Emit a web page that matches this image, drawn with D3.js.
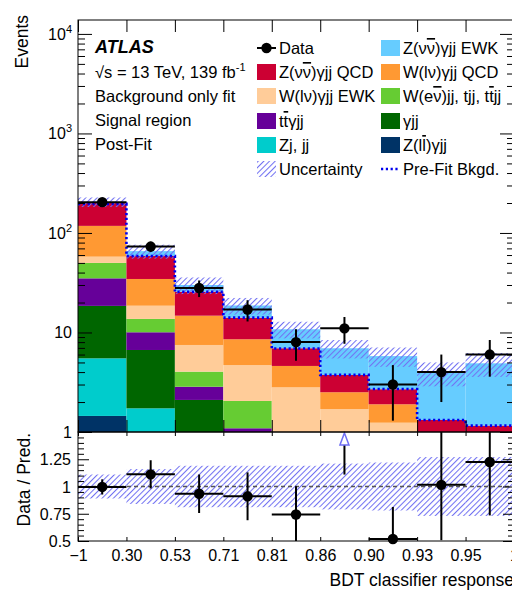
<!DOCTYPE html>
<html>
<head>
<meta charset="utf-8">
<script src="https://cdn.jsdelivr.net/npm/d3@7"></script>
<style>
  body { margin: 0; background: #fff; }
  text { font-family: "Liberation Sans", Arial, Helvetica, sans-serif; fill: #000; }
</style>
</head>
<body>
<svg id="chart" width="512" height="590"></svg>
<script>
// bin edges of the BDT response (equal-width display bins)
var binLabels = ["\u22121", "0.30", "0.53", "0.71", "0.81", "0.86", "0.90", "0.93", "0.95", "1"];

// post-fit yields, stacked bottom -> top
var zllgjj  = [1.45, 0.5, 0.15, 0.05, 0.02, 0.02, 0.02, 0.02, 0.02];
var zjjj    = [4.05, 1.23, 0.55, 0.2, 0.05, 0.03, 0.02, 0.03, 0.03];
var gjj     = [13, 4.94, 1.4, 0.6, 0.08, 0.03, 0.02, 0.05, 0.05];
var ttgjj   = [16.5, 3.38, 0.75, 0.24, 0.05, 0.02, 0.01, 0.05, 0.05];
var wejj    = [15, 3.63, 1.19, 0.96, 0.15, 0.05, 0.03, 0.05, 0.05];
var wgjjEwk = [7.8, 4.9, 3.45, 2.66, 2.46, 1.55, 1.14, 0.2, 0.1];
var wgjjQcd = [60, 15.9, 7.26, 3.84, 1.8, 0.81, 0.66, 0.15, 0.1];
var zvvQcd  = [85, 24.2, 10.95, 5.53, 2.33, 1.23, 0.79, 0.77, 0.76];
var zvvEwk  = [2, 7, 4.3, 4.6, 3.83, 3.2, 3.1, 2.62, 3.74];

var dataCounts = [204, 73, 28, 17, 8, 11, 3, 4, 6];
var dataErr    = [14.3, 8.5, 5.3, 4.1, 2.8, 3.3, 1.7, 2.0, 2.4];
var preFit     = [196, 58.7, 25.7, 14.1, 6.9, 3.75, 2.7, 1.32, 1.16];
var uncRel     = [0.11, 0.16, 0.19, 0.19, 0.19, 0.21, 0.22, 0.27, 0.27];

var keys = ["zllgjj", "zjjj", "gjj", "ttgjj", "wejj", "wgjjEwk", "wgjjQcd", "zvvQcd", "zvvEwk"];
var seriesValues = [zllgjj, zjjj, gjj, ttgjj, wejj, wgjjEwk, wgjjQcd, zvvQcd, zvvEwk];
var colors = {
  zllgjj: "#003366", zjjj: "#00cccc", gjj: "#006600", ttgjj: "#660099", wejj: "#66cc33",
  wgjjEwk: "#ffcc99", wgjjQcd: "#ff9933", zvvQcd: "#cc0033", zvvEwk: "#66ccff"
};

var svg = d3.select("#chart");
var pLeft = 78, pRight = 514, pTop = 20, mainBottom = 432, ratioBottom = 541;
var nBins = binLabels.length - 1;

var x = d3.scaleLinear().domain([0, nBins]).range([pLeft, pRight]);
var y = d3.scaleLog().domain([1, 13800]).range([mainBottom, pTop]).clamp(true);
var yr = d3.scaleLinear().domain([0.5, 1.5]).range([ratioBottom, mainBottom]).clamp(true);

var table = d3.range(nBins).map(function (i) {
  var r = {};
  keys.forEach(function (k, j) { r[k] = seriesValues[j][i]; });
  return r;
});
var layers = d3.stack().keys(keys)(table);
var totals = table.map(function (r) { return d3.sum(keys, function (k) { return r[k]; }); });

var defs = svg.append("defs");
defs.append("clipPath").attr("id", "clipMain").append("rect")
  .attr("x", pLeft).attr("y", pTop).attr("width", pRight - pLeft).attr("height", mainBottom - pTop);
defs.append("clipPath").attr("id", "clipRatio").append("rect")
  .attr("x", pLeft).attr("y", mainBottom).attr("width", pRight - pLeft).attr("height", ratioBottom - mainBottom);
var pat = defs.append("pattern").attr("id", "hatch")
  .attr("patternUnits", "userSpaceOnUse").attr("width", 4).attr("height", 4)
  .attr("patternTransform", "rotate(45)");
pat.append("line").attr("x1", 0.5).attr("y1", 0).attr("x2", 0.5).attr("y2", 4)
  .attr("stroke", "#7272f2").attr("stroke-width", 1.1);

function safe(v) { return Math.max(v, 1e-3); }

// ---------- main panel ----------
var main = svg.append("g").attr("clip-path", "url(#clipMain)");

main.selectAll("g.layer").data(layers).enter().append("g")
  .attr("class", "layer")
  .attr("fill", function (d) { return colors[d.key]; })
  .selectAll("rect").data(function (d) { return d; }).enter().append("rect")
  .attr("x", function (d, i) { return x(i); })
  .attr("width", function (d, i) { return x(i + 1) - x(i); })
  .attr("y", function (d) { return y(safe(d[1])); })
  .attr("height", function (d) { return y(safe(d[0])) - y(safe(d[1])); });

main.append("g").selectAll("rect").data(totals).enter().append("rect")
  .attr("x", function (d, i) { return x(i); })
  .attr("width", function (d, i) { return x(i + 1) - x(i); })
  .attr("y", function (d, i) { return y(d * (1 + uncRel[i])); })
  .attr("height", function (d, i) { return y(d * (1 - uncRel[i])) - y(d * (1 + uncRel[i])); })
  .attr("fill", "url(#hatch)");

var pf = "";
preFit.forEach(function (v, i) {
  pf += (i === 0 ? "M" + x(0) + "," + y(v) : "V" + y(v)) + "H" + x(i + 1);
});
main.append("path").attr("d", pf).attr("fill", "none")
  .attr("stroke", "#0000ee").attr("stroke-width", 2.6).attr("stroke-dasharray", "2.2,2.6");

var pts = svg.append("g");
dataCounts.forEach(function (v, i) {
  var cx = (x(i) + x(i + 1)) / 2;
  pts.append("line").attr("x1", x(i)).attr("x2", x(i + 1)).attr("y1", y(v)).attr("y2", y(v))
    .attr("stroke", "#000").attr("stroke-width", 2);
  pts.append("line").attr("x1", cx).attr("x2", cx).attr("y1", y(v + dataErr[i])).attr("y2", y(v - dataErr[i]))
    .attr("stroke", "#000").attr("stroke-width", 2);
  pts.append("circle").attr("cx", cx).attr("cy", y(v)).attr("r", 5.2).attr("fill", "#000");
});

// ---------- ratio panel ----------
var ratio = svg.append("g").attr("clip-path", "url(#clipRatio)");
ratio.selectAll("rect").data(uncRel).enter().append("rect")
  .attr("x", function (d, i) { return x(i); })
  .attr("width", function (d, i) { return x(i + 1) - x(i); })
  .attr("y", function (d) { return yr(1 + d); })
  .attr("height", function (d) { return yr(1 - d) - yr(1 + d); })
  .attr("fill", "url(#hatch)");
ratio.append("line").attr("x1", pLeft).attr("x2", pRight).attr("y1", yr(1)).attr("y2", yr(1))
  .attr("stroke", "#555").attr("stroke-width", 1.3).attr("stroke-dasharray", "4,3");

var rpts = svg.append("g");
dataCounts.forEach(function (v, i) {
  var r = v / totals[i], lo = (v - dataErr[i]) / totals[i], hi = (v + dataErr[i]) / totals[i];
  var cx = (x(i) + x(i + 1)) / 2;
  if (r > 1.5) {
    // off-scale point: arrow
    rpts.append("line").attr("x1", cx).attr("x2", cx).attr("y1", yr(lo)).attr("y2", yr(1.5) + 13)
      .attr("stroke", "#000").attr("stroke-width", 2);
    rpts.append("path")
      .attr("d", "M" + cx + "," + (yr(1.5) + 1) + "L" + (cx + 4.5) + "," + (yr(1.5) + 13) + "H" + (cx - 4.5) + "Z")
      .attr("fill", "#fff").attr("stroke", "#6f6ff5").attr("stroke-width", 1.5);
    return;
  }
  rpts.append("line").attr("x1", x(i)).attr("x2", x(i + 1)).attr("y1", yr(r)).attr("y2", yr(r))
    .attr("stroke", "#000").attr("stroke-width", 2);
  rpts.append("line").attr("x1", cx).attr("x2", cx).attr("y1", yr(hi)).attr("y2", yr(lo))
    .attr("stroke", "#000").attr("stroke-width", 2);
  rpts.append("circle").attr("cx", cx).attr("cy", yr(r)).attr("r", 5.2).attr("fill", "#000");
});

// ---------- frames & axes ----------
function tickAxis(axis, tx, ty) {
  var g = svg.append("g").attr("transform", "translate(" + tx + "," + ty + ")").call(axis);
  g.select(".domain").remove();
  g.selectAll("line").attr("stroke", "#000");
  return g;
}
var majorY = [1, 10, 100, 1000, 10000];
var minorY = [];
[1, 10, 100, 1000].forEach(function (p) { d3.range(2, 10).forEach(function (m) { minorY.push(m * p); }); });

tickAxis(d3.axisLeft(y).tickValues(majorY).tickSize(-14).tickFormat(""), pLeft, 0);
tickAxis(d3.axisLeft(y).tickValues(minorY).tickSize(-7).tickFormat(""), pLeft, 0);
tickAxis(d3.axisRight(y).tickValues(majorY).tickSize(-14).tickFormat(""), pRight, 0);
tickAxis(d3.axisRight(y).tickValues(minorY).tickSize(-7).tickFormat(""), pRight, 0);
tickAxis(d3.axisBottom(x).tickValues(d3.range(nBins + 1)).tickSize(-12).tickFormat(""), 0, mainBottom);
tickAxis(d3.axisTop(x).tickValues(d3.range(nBins + 1)).tickSize(-12).tickFormat(""), 0, pTop);

var majorR = [0.5, 0.75, 1, 1.25, 1.5];
var minorR = d3.range(10, 30).filter(function (k) { return k % 5 !== 0; }).map(function (k) { return k * 0.05; });
tickAxis(d3.axisLeft(yr).tickValues(majorR).tickSize(-11).tickFormat(""), pLeft, 0);
tickAxis(d3.axisLeft(yr).tickValues(minorR).tickSize(-6).tickFormat(""), pLeft, 0);
tickAxis(d3.axisRight(yr).tickValues(majorR).tickSize(-11).tickFormat(""), pRight, 0);
tickAxis(d3.axisRight(yr).tickValues(minorR).tickSize(-6).tickFormat(""), pRight, 0);
var xr = tickAxis(d3.axisBottom(x).tickValues(d3.range(nBins + 1)).tickSize(-4).tickPadding(9)
  .tickFormat(function (d) { return binLabels[d]; }), 0, ratioBottom);
xr.selectAll("text").style("font-size", "16px").attr("font-family", null);
tickAxis(d3.axisTop(x).tickValues(d3.range(nBins + 1)).tickSize(-4).tickFormat(""), 0, mainBottom);

svg.append("rect").attr("x", pLeft).attr("y", pTop).attr("width", pRight - pLeft).attr("height", mainBottom - pTop)
  .attr("fill", "none").attr("stroke", "#000").attr("stroke-width", 1);
svg.append("rect").attr("x", pLeft).attr("y", mainBottom).attr("width", pRight - pLeft).attr("height", ratioBottom - mainBottom)
  .attr("fill", "none").attr("stroke", "#000").attr("stroke-width", 1);

// y tick labels (main, log)
var expSup = ["", "", "2", "3", "4"];
majorY.forEach(function (v, k) {
  var t = svg.append("text").attr("x", 72).attr("y", y(v) + 6).attr("text-anchor", "end").style("font-size", "16px");
  if (k < 2) { t.text(k === 0 ? "1" : "10"); }
  else {
    t.append("tspan").text("10");
    t.append("tspan").attr("dy", -7).style("font-size", "11px").text(expSup[k]);
  }
});
// ratio labels
[0.5, 0.75, 1, 1.25].forEach(function (v) {
  svg.append("text").attr("x", 71).attr("y", yr(v) + 6).attr("text-anchor", "end")
    .style("font-size", "16px").text(String(v));
});

// axis titles
svg.append("text").attr("transform", "translate(28,15) rotate(-90)").attr("text-anchor", "end")
  .style("font-size", "17.5px").text("Events");
svg.append("text").attr("transform", "translate(30,433) rotate(-90)").attr("text-anchor", "end")
  .style("font-size", "17.5px").text("Data / Pred.");
svg.append("text").attr("x", 514).attr("y", 586).attr("text-anchor", "end")
  .style("font-size", "17.5px").text("BDT classifier response");

// ATLAS label block
svg.append("text").attr("x", 95).attr("y", 53).style("font-size", "18px")
  .style("font-weight", "bold").style("font-style", "italic").text("ATLAS");
var sq = svg.append("text").attr("x", 95).attr("y", 78).style("font-size", "16.5px");
sq.append("tspan").text("\u221As = 13 TeV, 139 fb");
sq.append("tspan").attr("dy", -7).style("font-size", "11px").text("-1");
["Background only fit", "Signal region", "Post-Fit"].forEach(function (s, i) {
  svg.append("text").attr("x", 95).attr("y", 102 + i * 24).style("font-size", "16.5px").text(s);
});

// legend ("~" marks an anti-particle bar over the next character)
var legRows = [48, 72, 96, 121, 145, 169];
var legendItems = [
  { col: 0, row: 0, type: "data", label: "Data" },
  { col: 1, row: 0, type: "box", key: "zvvEwk", label: "Z(\u03BD~\u03BD)\u03B3jj EWK" },
  { col: 0, row: 1, type: "box", key: "zvvQcd", label: "Z(\u03BD~\u03BD)\u03B3jj QCD" },
  { col: 1, row: 1, type: "box", key: "wgjjQcd", label: "W(l\u03BD)\u03B3jj QCD" },
  { col: 0, row: 2, type: "box", key: "wgjjEwk", label: "W(l\u03BD)\u03B3jj EWK" },
  { col: 1, row: 2, type: "box", key: "wejj", label: "W(e~\u03BD)jj, tjj, t~tjj" },
  { col: 0, row: 3, type: "box", key: "ttgjj", label: "t~t\u03B3jj" },
  { col: 1, row: 3, type: "box", key: "gjj", label: "\u03B3jj" },
  { col: 0, row: 4, type: "box", key: "zjjj", label: "Zj, jj" },
  { col: 1, row: 4, type: "box", key: "zllgjj", label: "Z(l~l)\u03B3jj" },
  { col: 0, row: 5, type: "hatch", label: "Uncertainty" },
  { col: 1, row: 5, type: "dotted", label: "Pre-Fit Bkgd." }
];
var colX = [257, 381];
var leg = svg.append("g");
legendItems.forEach(function (it) {
  var bx = colX[it.col], cy = legRows[it.row];
  if (it.type === "box") {
    leg.append("rect").attr("x", bx).attr("y", cy - 8).attr("width", 19).attr("height", 16)
      .attr("fill", colors[it.key]);
  } else if (it.type === "hatch") {
    leg.append("rect").attr("x", bx).attr("y", cy - 8).attr("width", 19).attr("height", 16)
      .attr("fill", "url(#hatch)");
  } else if (it.type === "dotted") {
    leg.append("line").attr("x1", bx).attr("x2", bx + 19).attr("y1", cy).attr("y2", cy)
      .attr("stroke", "#0000ee").attr("stroke-width", 2.6).attr("stroke-dasharray", "2.2,2.6");
  } else {
    leg.append("line").attr("x1", bx).attr("x2", bx + 19).attr("y1", cy).attr("y2", cy)
      .attr("stroke", "#000").attr("stroke-width", 2);
    leg.append("circle").attr("cx", bx + 9.5).attr("cy", cy).attr("r", 5.2).attr("fill", "#000");
  }
  var t = leg.append("text").attr("x", bx + 22).attr("y", cy + 6).style("font-size", "16.5px");
  it.label.split(/(~.)/).forEach(function (part) {
    if (!part) return;
    if (part[0] === "~") {
      t.append("tspan").style("text-decoration", "overline").text(part.slice(1));
    } else {
      t.append("tspan").text(part);
    }
  });
});
</script>
</body>
</html>
